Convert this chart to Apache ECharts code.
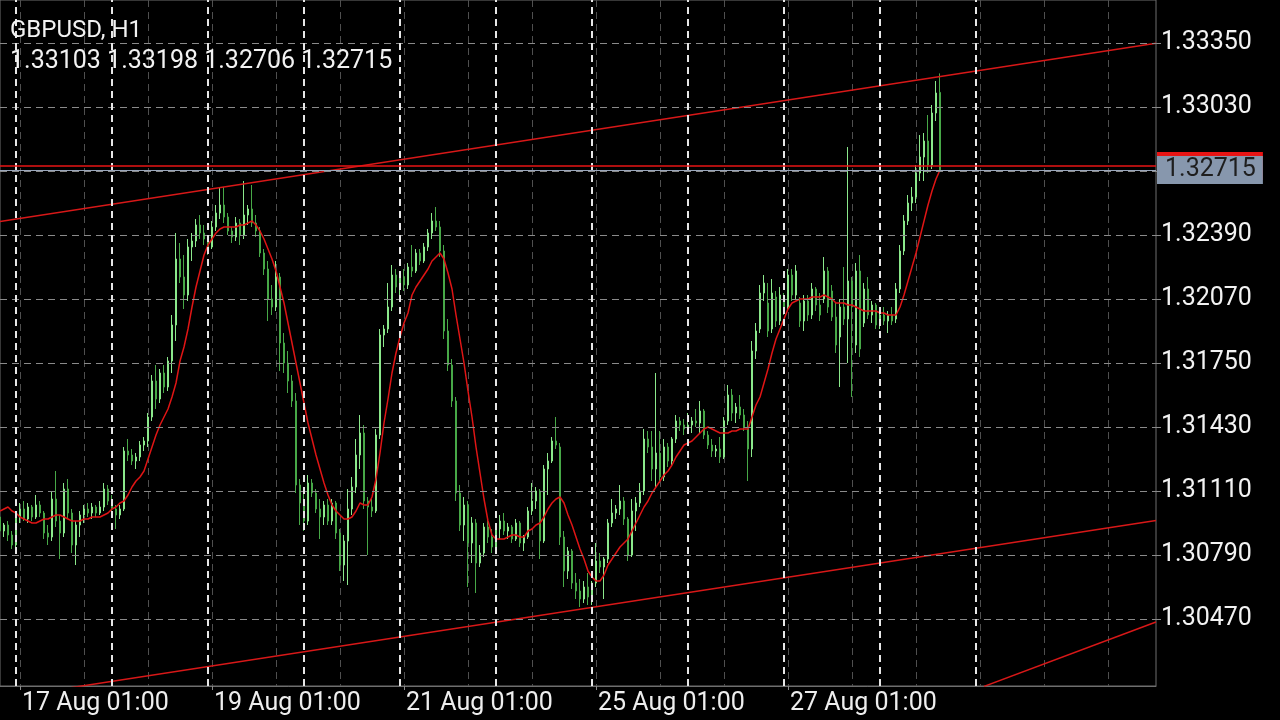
<!DOCTYPE html>
<html><head><meta charset="utf-8">
<script src="https://cdn.jsdelivr.net/npm/echarts@6/dist/echarts.min.js"></script>
<style>html,body{margin:0;padding:0;background:#000;}#c{width:1280px;height:720px;}</style>
</head><body><div id="c"></div>
<script>
const symbolName = 'GBPUSD, H1';
const days = ['14 Aug','17 Aug','18 Aug','19 Aug','20 Aug','21 Aug','24 Aug','25 Aug','26 Aug','27 Aug','28 Aug','31 Aug','01 Sep'];
const firstHour = 20;
const totalSlots = 290;

const open = [
1.3098,1.3091,1.3094,1.3089,1.3084,1.3098,1.3102,1.3097,1.3103,1.3098,
1.3104,1.3100,1.3090,1.3088,1.3107,1.3096,1.3090,1.3112,1.3100,1.3084,
1.3094,1.3099,1.3102,1.3100,1.3103,1.3100,1.3103,1.3112,1.3106,1.3102,
1.3099,1.3102,1.3131,1.3129,1.3126,1.3128,1.3134,1.3136,1.3148,1.3166,
1.3157,1.3170,1.3163,1.3176,1.3194,1.3227,1.3218,1.3209,1.3233,1.3236,
1.3244,1.3240,1.3237,1.3233,1.3243,1.3250,1.3254,1.3248,1.3241,1.3238,
1.3245,1.3239,1.3249,1.3252,1.3245,1.3241,1.3230,1.3222,1.3207,1.3203,
1.3218,1.3185,1.3175,1.3166,1.3156,1.3114,1.3105,1.3096,1.3115,1.3110,
1.3102,1.3098,1.3104,1.3096,1.3105,1.3090,1.3074,1.3086,1.3102,1.3113,
1.3129,1.3140,1.3106,1.3103,1.3101,1.3139,1.3189,1.3192,1.3203,1.3219,
1.3213,1.3218,1.3214,1.3223,1.3221,1.3230,1.3226,1.3233,1.3240,1.3246,
1.3243,1.3231,1.3191,1.3174,1.3156,1.3110,1.3094,1.3104,1.3085,1.3095,
1.3075,1.3080,1.3093,1.3088,1.3083,1.3092,1.3096,1.3091,1.3093,1.3087,
1.3095,1.3085,1.3088,1.3101,1.3106,1.3111,1.3086,1.3122,1.3126,1.3136,
1.3133,1.3088,1.3071,1.3081,1.3065,1.3061,1.3057,1.3063,1.3058,1.3065,
1.3076,1.3073,1.3077,1.3095,1.3100,1.3102,1.3106,1.3097,1.3079,1.3101,
1.3105,1.3111,1.3137,1.3133,1.3122,1.3130,1.3118,1.3133,1.3126,1.3137,
1.3146,1.3144,1.3142,1.3144,1.3146,1.3145,1.3151,1.3139,1.3134,1.3131,
1.3132,1.3128,1.3146,1.3159,1.3150,1.3153,1.3149,1.3143,1.3132,1.3181,
1.3192,1.3210,1.3205,1.3192,1.3208,1.3196,1.3207,1.3203,1.3219,1.3209,
1.3205,1.3196,1.3206,1.3199,1.3212,1.3204,1.3207,1.3221,1.3211,1.3198,
1.3188,1.3203,1.3197,1.3216,1.3184,1.3221,1.3195,1.3212,1.3199,1.3204,
1.3194,1.3199,1.3196,1.3199,1.3197,1.3212,1.3231,1.3246,1.3255,1.3258,
1.3270,1.3278,1.3286,1.3274,1.3300,1.33103];

const high = [
1.3101,1.3095,1.3096,1.3091,1.3100,1.3105,1.3106,1.3105,1.3104,1.3109,
1.3106,1.3101,1.3094,1.3111,1.3121,1.3099,1.3115,1.3117,1.3102,1.3096,
1.3101,1.3104,1.3105,1.3105,1.3104,1.3106,1.3115,1.3114,1.3109,1.3104,
1.3104,1.3133,1.3137,1.3132,1.3130,1.3136,1.3138,1.3150,1.3169,1.3174,
1.3172,1.3174,1.3178,1.3199,1.3240,1.3235,1.3229,1.3237,1.3240,1.3247,
1.3249,1.3244,1.3239,1.3246,1.3254,1.3263,1.3263,1.3250,1.3243,1.3248,
1.3247,1.3266,1.3254,1.3264,1.3249,1.3243,1.3232,1.3226,1.3214,1.3226,
1.3220,1.3190,1.3181,1.3169,1.3160,1.3117,1.3112,1.3119,1.3117,1.3112,
1.3107,1.3106,1.3107,1.3107,1.3106,1.3092,1.3089,1.3112,1.3118,1.3137,
1.3149,1.3144,1.3108,1.3107,1.3142,1.3192,1.3194,1.3215,1.3224,1.3222,
1.3220,1.3222,1.3225,1.3234,1.3232,1.3232,1.3235,1.3242,1.3250,1.3253,
1.3246,1.3234,1.3197,1.3177,1.3158,1.3114,1.3108,1.3106,1.3098,1.3097,
1.3084,1.3095,1.3097,1.3092,1.3094,1.3099,1.3100,1.3095,1.3094,1.3097,
1.3096,1.3089,1.3103,1.3115,1.3113,1.3112,1.3124,1.3130,1.3138,1.3148,
1.3135,1.3091,1.3083,1.3082,1.3070,1.3067,1.3066,1.3070,1.3066,1.3085,
1.3080,1.3078,1.3097,1.3107,1.3104,1.3114,1.3108,1.3098,1.3107,1.3108,
1.3115,1.3142,1.3141,1.3141,1.3170,1.3141,1.3137,1.3135,1.3138,1.3149,
1.3148,1.3147,1.3150,1.3148,1.3152,1.3156,1.3152,1.3141,1.3137,1.3134,
1.3138,1.3148,1.3164,1.3162,1.3155,1.3159,1.3152,1.3146,1.3186,1.3195,
1.3214,1.3219,1.3215,1.3217,1.3211,1.3213,1.3210,1.3222,1.3222,1.3224,
1.3208,1.3209,1.3209,1.3215,1.3213,1.3210,1.3228,1.3223,1.3214,1.3205,
1.3207,1.3223,1.3283,1.3218,1.3225,1.3229,1.3215,1.3218,1.3206,1.3205,
1.3201,1.3203,1.3201,1.3203,1.3215,1.3234,1.3249,1.3259,1.3263,1.3274,
1.3289,1.3290,1.3299,1.3304,1.3316,1.33198];

const low = [
1.3086,1.3088,1.3086,1.3082,1.3080,1.3095,1.3096,1.3095,1.3096,1.3097,
1.3098,1.3087,1.3084,1.3086,1.3093,1.3077,1.3088,1.3097,1.3080,1.3074,
1.3088,1.3095,1.3098,1.3097,1.3098,1.3099,1.3101,1.3104,1.3100,1.3092,
1.3097,1.3101,1.3126,1.3124,1.3122,1.3126,1.3131,1.3133,1.3146,1.3152,
1.3155,1.3160,1.3161,1.3170,1.3186,1.3215,1.3202,1.3206,1.3226,1.3233,
1.3237,1.3234,1.3229,1.3232,1.3241,1.3247,1.3245,1.3239,1.3235,1.3236,
1.3234,1.3237,1.3244,1.3243,1.3238,1.3228,1.3219,1.3196,1.3199,1.3201,
1.3171,1.3170,1.3160,1.3153,1.3110,1.3094,1.3091,1.3094,1.3108,1.3100,
1.3087,1.3094,1.3094,1.3094,1.3087,1.3071,1.3066,1.3064,1.3099,1.3110,
1.3122,1.3102,1.3079,1.3098,1.3100,1.3137,1.3183,1.3190,1.3201,1.3210,
1.3209,1.3211,1.3212,1.3218,1.3220,1.3224,1.3225,1.3231,1.3237,1.3241,
1.3228,1.3187,1.3171,1.3153,1.3106,1.3091,1.3086,1.3063,1.3075,1.3060,
1.3073,1.3078,1.3085,1.3080,1.3082,1.3087,1.3089,1.3087,1.3085,1.3086,
1.3083,1.3081,1.3087,1.3099,1.3102,1.3077,1.3085,1.3109,1.3125,1.3132,
1.3084,1.3063,1.3067,1.3062,1.3057,1.3053,1.3055,1.3054,1.3054,1.3063,
1.3070,1.3057,1.3075,1.3093,1.3097,1.3099,1.3094,1.3076,1.3078,1.3091,
1.3103,1.3109,1.3130,1.3116,1.3113,1.3115,1.3116,1.3123,1.3124,1.3135,
1.3141,1.3139,1.3140,1.3140,1.3143,1.3140,1.3137,1.3132,1.3128,1.3128,
1.3125,1.3127,1.3144,1.3146,1.3145,1.3147,1.3141,1.3116,1.3128,1.3177,
1.3190,1.3206,1.3188,1.3190,1.3193,1.3194,1.3199,1.3201,1.3206,1.3207,
1.3193,1.3191,1.3196,1.3197,1.3201,1.3196,1.3205,1.3200,1.3196,1.3180,
1.3163,1.3194,1.3175,1.3158,1.3180,1.3178,1.3193,1.3197,1.3195,1.3192,
1.3192,1.3194,1.3190,1.3194,1.3195,1.3210,1.3229,1.3244,1.3251,1.3255,
1.3266,1.3266,1.3270,1.3272,1.3296,1.32706];

const close = [
1.3091,1.3094,1.3089,1.3084,1.3098,1.3102,1.3097,1.3103,1.3098,1.3104,
1.3100,1.3090,1.3088,1.3107,1.3096,1.3090,1.3112,1.3100,1.3084,1.3094,
1.3099,1.3102,1.3100,1.3103,1.3100,1.3103,1.3112,1.3106,1.3102,1.3099,
1.3102,1.3131,1.3129,1.3126,1.3128,1.3134,1.3136,1.3148,1.3166,1.3157,
1.3170,1.3163,1.3176,1.3194,1.3227,1.3218,1.3209,1.3233,1.3236,1.3244,
1.3240,1.3237,1.3233,1.3243,1.3250,1.3254,1.3248,1.3241,1.3238,1.3245,
1.3239,1.3249,1.3252,1.3245,1.3241,1.3230,1.3222,1.3207,1.3203,1.3218,
1.3185,1.3175,1.3166,1.3156,1.3114,1.3105,1.3096,1.3115,1.3110,1.3102,
1.3098,1.3104,1.3096,1.3105,1.3090,1.3074,1.3086,1.3102,1.3113,1.3129,
1.3140,1.3106,1.3103,1.3101,1.3139,1.3189,1.3192,1.3203,1.3219,1.3213,
1.3218,1.3214,1.3223,1.3221,1.3230,1.3226,1.3233,1.3240,1.3246,1.3243,
1.3231,1.3191,1.3174,1.3156,1.3110,1.3094,1.3104,1.3085,1.3095,1.3075,
1.3080,1.3093,1.3088,1.3083,1.3092,1.3096,1.3091,1.3093,1.3087,1.3095,
1.3085,1.3088,1.3101,1.3106,1.3111,1.3086,1.3122,1.3126,1.3136,1.3134,
1.3088,1.3071,1.3081,1.3065,1.3061,1.3057,1.3063,1.3058,1.3065,1.3076,
1.3073,1.3077,1.3095,1.3100,1.3102,1.3106,1.3097,1.3079,1.3101,1.3105,
1.3111,1.3137,1.3133,1.3122,1.3130,1.3118,1.3133,1.3126,1.3137,1.3146,
1.3144,1.3142,1.3144,1.3146,1.3145,1.3151,1.3139,1.3134,1.3131,1.3132,
1.3128,1.3146,1.3159,1.3150,1.3153,1.3149,1.3143,1.3132,1.3181,1.3191,
1.3210,1.3215,1.3191,1.3210,1.3196,1.3209,1.3202,1.3219,1.3209,1.3221,
1.3196,1.3206,1.3199,1.3212,1.3204,1.3199,1.3221,1.3203,1.3198,1.3184,
1.3203,1.3197,1.3216,1.3203,1.3221,1.3182,1.3212,1.3199,1.3204,1.3194,
1.3199,1.3196,1.3199,1.3196,1.3212,1.3231,1.3246,1.3255,1.3258,1.3270,
1.3278,1.3286,1.3274,1.3300,1.3310,1.32715];

const ma = [
1.3101,1.3102,1.3103,1.3101,1.3100,1.3098,1.3097,1.3096,1.3095,1.3095,
1.3096,1.3097,1.3097,1.3098,1.3099,1.3099,1.3098,1.3097,1.3096,1.3096,
1.3096,1.3097,1.3097,1.3098,1.3098,1.3098,1.3099,1.3100,1.3102,1.3103,
1.3105,1.3106,1.3109,1.3113,1.3116,1.3118,1.3121,1.3127,1.3133,1.3139,
1.3144,1.3148,1.3152,1.3158,1.3165,1.3176,1.3183,1.3192,1.3203,1.3213,
1.3221,1.3229,1.3234,1.3237,1.3240,1.3242,1.3243,1.3243,1.3243,1.3243,
1.3244,1.3244,1.3245,1.3246,1.3244,1.3241,1.3237,1.3232,1.3227,1.3221,
1.3213,1.3205,1.3195,1.3185,1.3175,1.3165,1.3155,1.3145,1.3137,1.3129,
1.3122,1.3115,1.3109,1.3104,1.3101,1.3099,1.3097,1.3097,1.3098,1.3101,
1.3105,1.3104,1.3104,1.3108,1.3117,1.3130,1.3145,1.3157,1.3170,1.3180,
1.3188,1.3195,1.3200,1.3209,1.3213,1.3216,1.3219,1.3222,1.3226,1.3228,
1.3230,1.3227,1.3220,1.3212,1.3199,1.3187,1.3175,1.3161,1.3148,1.3133,
1.3120,1.3107,1.3096,1.3089,1.3087,1.3087,1.3087,1.3088,1.3089,1.3089,
1.3088,1.3088,1.3091,1.3092,1.3094,1.3095,1.3098,1.3102,1.3105,1.3107,
1.3108,1.3105,1.3099,1.3094,1.3088,1.3082,1.3077,1.3071,1.3068,1.3066,
1.3066,1.3069,1.3074,1.3077,1.3080,1.3083,1.3085,1.3087,1.3091,1.3095,
1.3099,1.3103,1.3106,1.3110,1.3113,1.3116,1.3119,1.3121,1.3124,1.3128,
1.3131,1.3134,1.3135,1.3136,1.3138,1.3140,1.3142,1.3143,1.3142,1.3141,
1.3140,1.3140,1.3140,1.3141,1.3141,1.3142,1.3142,1.3142,1.3148,1.3154,
1.3158,1.3165,1.3172,1.3180,1.3187,1.3192,1.3197,1.3202,1.3205,1.3206,
1.3207,1.3207,1.3207,1.3208,1.3208,1.3208,1.3209,1.3208,1.3207,1.3205,
1.3205,1.3205,1.3204,1.3204,1.3203,1.3202,1.3201,1.3201,1.3201,1.3201,
1.3200,1.3200,1.3199,1.3199,1.3199,1.3203,1.3209,1.3216,1.3223,1.3230,
1.3238,1.3246,1.3254,1.3261,1.3267,1.32715];

const priceTicks = [1.30470,1.30790,1.31110,1.31430,1.31750,1.32070,1.32390,1.32710,1.33030,1.33350];
const bidPrice = 1.32715;
const askPrice = 1.32735;
const upperChannel = [[0,1.32458],[289,1.33349]];
const lowerChannel = [[0,1.30072],[289,1.30962]];
const thirdLine = [[246,1.30133],[289,1.30455]];
const separatorIdx = [4,28,52,76,100,124,148,172,196,220,244];
const labelIdx = [5,53,101,149,197];
const yMin = 1.30135, yMax = 1.33565;

const categories = [];
{ let d = 0, h = firstHour;
  for (let k = 0; k < totalSlots; k++) {
    categories.push(days[d] + ' ' + String(h).padStart(2,'0') + ':00');
    h++; if (h === 24) { h = 0; d++; }
  } }

const FONT = 'Roboto';
const n = close.length;
const candles = open.map((o, i) => [o, close[i], low[i], high[i]]);
const toLine = arr => arr.map(p => [categories[p[0]], p[1]]);

const chart = echarts.init(document.getElementById('c'), null, {renderer: 'canvas'});
chart.setOption({
  backgroundColor: '#000',
  animation: false,
  textStyle: {fontFamily: FONT},
  title: {
    text: symbolName,
    subtext: [open[n-1], high[n-1], low[n-1], close[n-1]].map(v => v.toFixed(5)).join(' '),
    left: 10, top: 18, padding: 0, itemGap: 5,
    textStyle: {color: '#f2f2f2', fontSize: 24, fontWeight: 'normal', fontFamily: FONT, lineHeight: 26},
    subtextStyle: {color: '#f2f2f2', fontSize: 25, fontFamily: FONT, lineHeight: 26}
  },
  grid: {left: 0, right: 124, top: 0, bottom: 34, show: true, borderColor: '#6e6e6e', borderWidth: 1, backgroundColor: '#000', containLabel: false},
  xAxis: {
    type: 'category', data: categories, boundaryGap: false,
    axisLine: {show: true, lineStyle: {color: '#6e6e6e', width: 1}},
    axisTick: {show: true, length: 4, interval: (i) => labelIdx.includes(i), lineStyle: {color: '#8a8a8a'}},
    axisLabel: {show: true, interval: (i) => labelIdx.includes(i), color: '#eeeeee', fontSize: 25, fontFamily: FONT, margin: 5, align: 'left', padding: [0,0,0,2]},
    splitLine: {show: true, interval: (i) => (i - 5) % 16 === 0, lineStyle: {color: '#4f4f4f', width: 1, type: [7,5]}}
  },
  yAxis: {
    type: 'value', position: 'right', min: yMin, max: yMax, scale: true,
    axisLine: {show: false},
    axisTick: {show: true, length: 5, customValues: priceTicks, lineStyle: {color: '#8a8a8a'}},
    axisLabel: {show: true, customValues: priceTicks, formatter: v => v.toFixed(5), color: '#f2f2f2', fontSize: 25, fontFamily: FONT, margin: 5, lineHeight: 25, padding: [8,0,0,0]},
    splitLine: {show: false}
  },
  series: [
    {
      type: 'line', data: [], z: 1, silent: true, clip: false,
      markLine: {
        silent: true, precision: 6, symbol: ['none','none'], animation: false, label: {show: false},
        data: [
          ...priceTicks.map(t => ({yAxis: t, lineStyle: {color: '#8a8a8a', width: 1, type: [7,5]}})),
          ...separatorIdx.map(i => ({xAxis: categories[i], lineStyle: {color: '#e6e6e6', width: 2, type: [7,5]}}))
        ]
      }
    },
    {
      type: 'candlestick', data: candles, z: 3, barWidth: 2,
      itemStyle: {color: '#8be88b', color0: '#47a847', borderColor: '#8be88b', borderColor0: '#47a847', borderWidth: 1}
    },
    {
      type: 'line', data: ma, z: 4, symbol: 'none', showSymbol: false, smooth: false,
      lineStyle: {color: '#e01515', width: 1.5}
    },
    {type: 'line', data: toLine(upperChannel), z: 4, symbol: 'none', lineStyle: {color: '#d81818', width: 1.5}},
    {type: 'line', data: toLine(lowerChannel), z: 4, symbol: 'none', lineStyle: {color: '#d81818', width: 1.5}},
    {type: 'line', data: toLine(thirdLine), z: 4, symbol: 'none', lineStyle: {color: '#d81818', width: 1.5}},
    {
      type: 'line', data: [], z: 5, silent: true, clip: false,
      markLine: {
        silent: true, precision: 6, symbol: ['none','none'], animation: false,
        data: [{yAxis: askPrice, lineStyle: {color: '#e81414', width: 1.5, type: 'solid'},
          label: {show: true, position: 'end', distance: 1, formatter: () => askPrice.toFixed(5), color: '#e81414', backgroundColor: '#e81414', fontSize: 25, lineHeight: 22, padding: [5,7,1,8], fontFamily: FONT}}]
      }
    },
    {
      type: 'line', data: [], z: 6, silent: true, clip: false,
      markLine: {
        silent: true, precision: 6, symbol: ['none','none'], animation: false,
        data: [{yAxis: bidPrice, lineStyle: {color: '#9aa6ba', width: 1, type: 'solid'},
          label: {show: true, position: 'end', distance: 1, formatter: () => bidPrice.toFixed(5), color: '#1e1e1e', backgroundColor: '#8797ad', fontSize: 25, lineHeight: 22, padding: [5,7,1,8], fontFamily: FONT}}]
      }
    }
  ]
});
</script>
</body></html>
